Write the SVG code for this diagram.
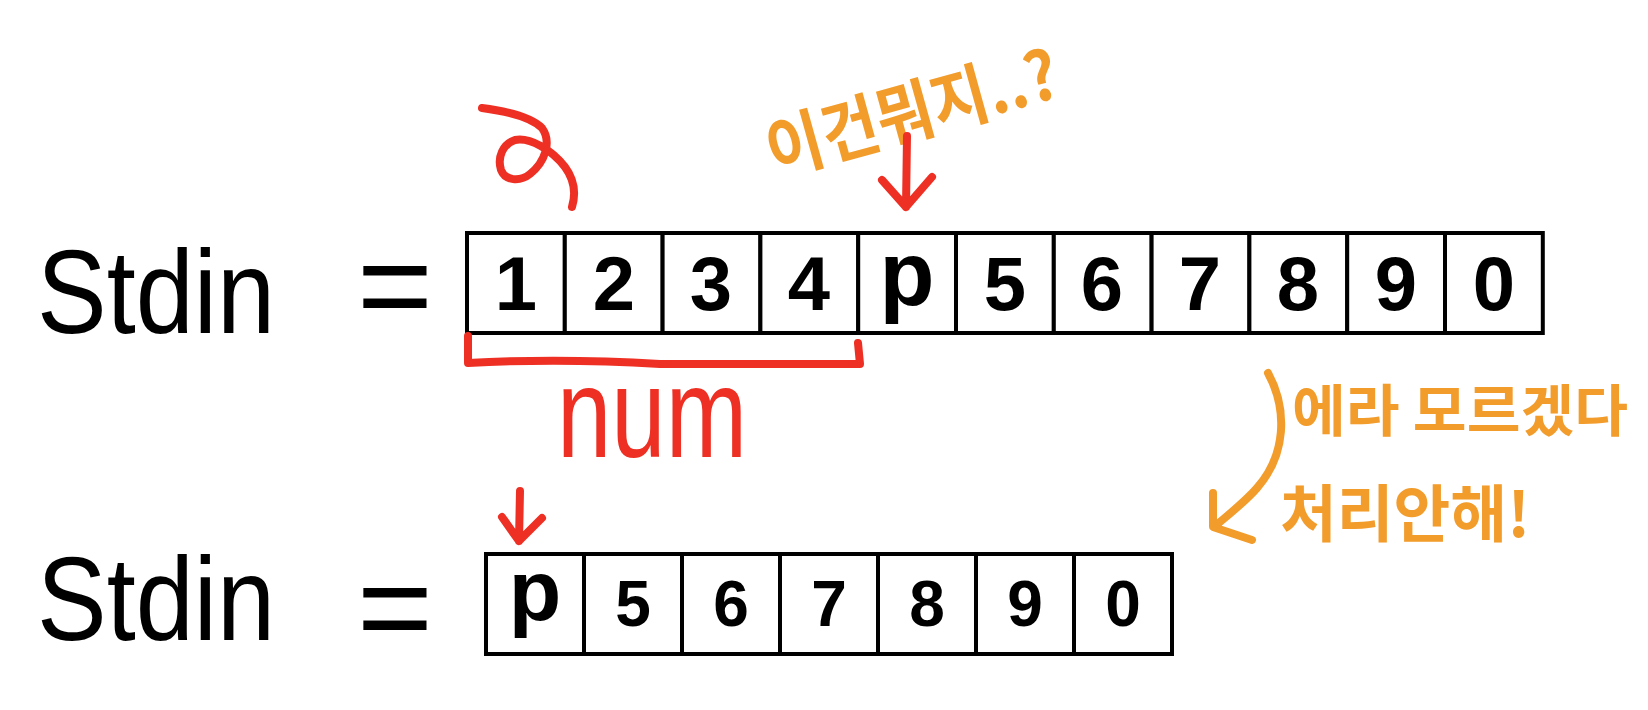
<svg xmlns="http://www.w3.org/2000/svg" width="1648" height="710" viewBox="0 0 1648 710">
<style>
.bg{fill:#ffffff}
.lbl{font-family:"Liberation Sans","DejaVu Sans",sans-serif;fill:#000}
.cell rect{fill:#fff;stroke:#000;stroke-width:4}
.cell text{font-family:"Liberation Sans","DejaVu Sans",sans-serif;font-weight:bold;fill:#000;text-anchor:middle}
.red{stroke:#ee3024;stroke-width:8;fill:none;stroke-linecap:round;stroke-linejoin:round}
.org{stroke:#f29c2c;stroke-width:8;fill:none;stroke-linecap:round;stroke-linejoin:round}
.kr{font-family:"Noto Sans CJK KR","Noto Sans",sans-serif;fill:#f29c2c;font-weight:bold}
.redt{font-family:"Liberation Sans","DejaVu Sans",sans-serif;fill:#ee3024}
</style>
<rect class="bg" x="0" y="0" width="1648" height="710"/>

<g id="label-stdin-1">
<text class="lbl" x="37" y="333" font-size="118" textLength="238" lengthAdjust="spacingAndGlyphs">Stdin</text>
<text class="lbl" x="357" y="330" font-size="130">=</text>
</g>
<g id="label-stdin-2">
<text class="lbl" x="37" y="640" font-size="118" textLength="238" lengthAdjust="spacingAndGlyphs">Stdin</text>
<text class="lbl" x="357" y="652" font-size="130">=</text>
</g>

<g id="array-1">
<g class="cell" id="a1-c0"><rect x="467" y="233" width="97.8" height="100"/><text x="516" y="310" font-size="76">1</text></g>
<g class="cell" id="a1-c1"><rect x="564.8" y="233" width="97.8" height="100"/><text x="614" y="310" font-size="76">2</text></g>
<g class="cell" id="a1-c2"><rect x="662.6" y="233" width="97.8" height="100"/><text x="711" y="310" font-size="76">3</text></g>
<g class="cell" id="a1-c3"><rect x="760.4" y="233" width="97.8" height="100"/><text x="809" y="310" font-size="76">4</text></g>
<g class="cell" id="a1-c4"><rect x="858.2" y="233" width="97.8" height="100"/><text x="907" y="305" font-size="90">p</text></g>
<g class="cell" id="a1-c5"><rect x="956" y="233" width="97.8" height="100"/><text x="1005" y="310" font-size="76">5</text></g>
<g class="cell" id="a1-c6"><rect x="1053.8" y="233" width="97.8" height="100"/><text x="1102" y="310" font-size="76">6</text></g>
<g class="cell" id="a1-c7"><rect x="1151.6" y="233" width="97.8" height="100"/><text x="1200" y="310" font-size="76">7</text></g>
<g class="cell" id="a1-c8"><rect x="1249.4" y="233" width="97.8" height="100"/><text x="1298" y="310" font-size="76">8</text></g>
<g class="cell" id="a1-c9"><rect x="1347.2" y="233" width="97.8" height="100"/><text x="1396" y="310" font-size="76">9</text></g>
<g class="cell" id="a1-c10"><rect x="1445" y="233" width="97.8" height="100"/><text x="1494" y="310" font-size="76">0</text></g>
</g>

<g id="array-2">
<g class="cell" id="a2-c0"><rect x="486" y="554" width="98" height="100"/><text x="535" y="620" font-size="86">p</text></g>
<g class="cell" id="a2-c1"><rect x="584" y="554" width="98" height="100"/><text x="633" y="626" font-size="64">5</text></g>
<g class="cell" id="a2-c2"><rect x="682" y="554" width="98" height="100"/><text x="731" y="626" font-size="64">6</text></g>
<g class="cell" id="a2-c3"><rect x="780" y="554" width="98" height="100"/><text x="829" y="626" font-size="64">7</text></g>
<g class="cell" id="a2-c4"><rect x="878" y="554" width="98" height="100"/><text x="927" y="626" font-size="64">8</text></g>
<g class="cell" id="a2-c5"><rect x="976" y="554" width="98" height="100"/><text x="1025" y="626" font-size="64">9</text></g>
<g class="cell" id="a2-c6"><rect x="1074" y="554" width="98" height="100"/><text x="1123" y="626" font-size="64">0</text></g>
</g>

<g id="annotations">
<path id="curl" class="red" d="M482,108 C505,111 530,116 542,128 C552,142 545,162 530,174 C520,182 505,181 501,170 C497,157 503,144 515,140 C530,137 552,150 565,167 C576,182 575,197 572,207"/>
<g id="bracket-num">
<path class="red" d="M468,336 L468,363 Q560,358 660,364 L860,364 L858,343"/>
<text class="redt" x="557" y="457" font-size="128" textLength="190" lengthAdjust="spacingAndGlyphs">num</text>
</g>
<g id="note-top">
<text class="kr" x="774" y="176" font-size="68" textLength="300" lengthAdjust="spacingAndGlyphs" transform="rotate(-15.5 774 176)">이건뭐지..?</text>
</g>
<g id="note-right">
<text class="kr" x="1292" y="431" font-size="56" textLength="336" lengthAdjust="spacingAndGlyphs">에라 모르겠다</text>
<text class="kr" x="1280" y="537" font-size="62" textLength="250" lengthAdjust="spacingAndGlyphs">처리안해!</text>
</g>
</g>

<g id="connectors">
<path id="arrow-top" class="red" d="M907,136 L906,207 M882,180 L906,207 L932,177"/>
<path id="arrow-bottom" class="red" d="M520,491 L519,541 M502,517 L519,541 L542,518"/>
<path id="arrow-orange" class="org" d="M1268,373 C1288,410 1286,455 1257,488 C1245,502 1228,515 1214,527 M1213,493 L1213,527 L1252,540"/>
</g>
</svg>
